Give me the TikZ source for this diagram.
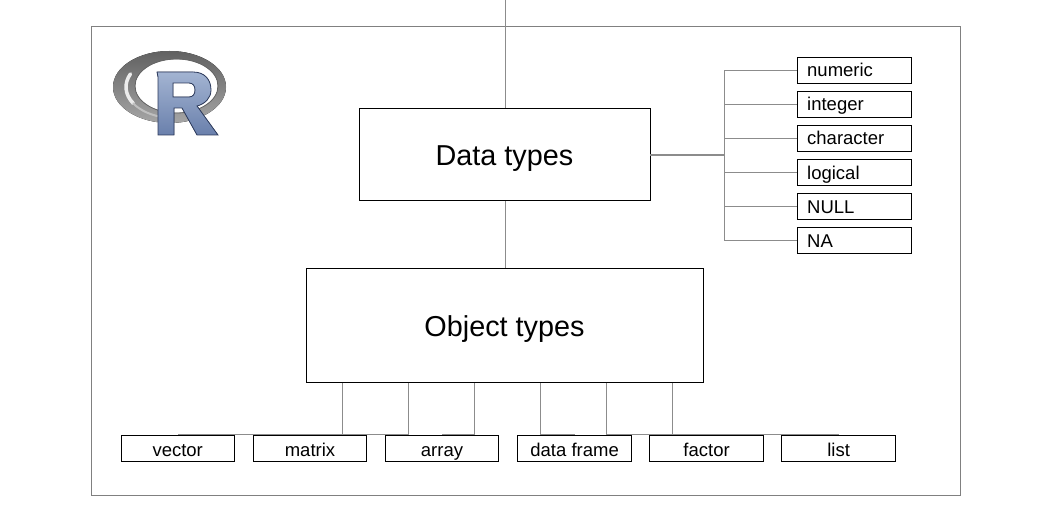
\documentclass[tikz,border=0pt]{standalone}
\usepackage{fontspec}
\setmainfont{Liberation Sans}
\definecolor{steeltop}{HTML}{A3B4D2}
\definecolor{steelbottom}{HTML}{6A80AC}
\definecolor{steelline}{HTML}{2C3A5C}
\begin{document}
\begin{tikzpicture}[
    x=1pt,y=-1pt,
    frame/.style={draw=black!50,line width=0.8pt},
    bigbox/.style={draw=black,line width=0.8pt,inner sep=0pt,font=\fontsize{28.8}{32}\selectfont,text height=27pt,text depth=5pt},
    typebox/.style={draw=black,line width=0.8pt,minimum width=113.5pt,minimum height=26pt,inner sep=0pt,font=\fontsize{18.5}{22}\selectfont,text height=18pt,text depth=2pt},
    leftbox/.style={typebox,text width=94pt,align=left,text height=17pt,text depth=3pt},
    link/.style={draw=black!45,line width=1pt}
    ]

    \useasboundingbox (0,0) rectangle (1057,532);

    \node (border) [frame,minimum width=869pt,minimum height=469pt,inner sep=0pt] at (525.5,260.5) {};

    % R logo
    \fill[top color=black!62,bottom color=black!35,even odd rule]
      (169.5,87) ellipse [x radius=56.5,y radius=36]
      (176.5,86) ellipse [x radius=41.5,y radius=27];
    \draw[black!60,line width=0.8pt] (176.5,86) ellipse [x radius=41.5,y radius=27];
    \draw[black!8,line width=3.5pt,line cap=round] ([shift={(148:48 and 31)}]174,87) arc [start angle=148,end angle=205,x radius=48,y radius=31];
    \draw[black!25,line width=2pt,line cap=round] ([shift={(100:48 and 31)}]174,87) arc [start angle=100,end angle=148,x radius=48,y radius=31];
    \fill[top color=steeltop,bottom color=steelbottom,draw=steelline,line width=0.8pt,even odd rule]
      (157,72) -- (193,72) .. controls (205,72) and (211,80) .. (211,90)
      .. controls (211,98) and (205,104) .. (197,106) -- (218,135) -- (197,135)
      -- (182,108) -- (174,108) -- (174,135) -- (158,135) -- (158,77) -- cycle
      (173,83) -- (189,83) .. controls (193,83) and (195,86) .. (195,90)
      .. controls (195,94) and (193,97) .. (189,97) -- (173,97) -- cycle;

    \node (datatypes) [bigbox,minimum width=291pt,minimum height=92pt] at (504.5,154.5) {Data types};
    \node (objecttypes) [bigbox,minimum width=397pt,minimum height=114pt] at (504.5,325.5) {Object types};

    \foreach \name/\label/\y in {numeric/numeric/70,integer/integer/104,character/character/138,logical/logical/172,null/NULL/206,na/NA/240}
      \node (\name) [leftbox] at (854.2,\y) {\label};

    \foreach \name/\label/\x in {vector/vector/177.7,matrix/matrix/310,array/array/442,dataframe/data frame/574.6,factor/factor/706.6,list/list/838.6}
      \node (\name) [typebox] at (\x,448) {\label};

    \coordinate (top) at (505,0);
    \coordinate (trunk) at (724.5,155);

    \draw[link] (top) -- ([xshift=0.5pt]datatypes.north);
    \draw[link] ([xshift=0.5pt]datatypes.south) -- ([xshift=0.5pt]objecttypes.north);

    \draw[link,line width=1.8pt] ([yshift=-0.5pt]datatypes.east) -- (trunk);
    \foreach \name in {numeric,integer,character,logical,null,na}
      \draw[link] (trunk) |- ([yshift=-0.5pt]\name.west);

    \foreach \name/\dx in {vector/36.5,matrix/102.5,array/168.5,dataframe/234.5,factor/300.5,list/366.5}
      \draw[link] ([xshift=\dx pt]objecttypes.south west) |- (\name.north);

  \end{tikzpicture}
\end{document}
